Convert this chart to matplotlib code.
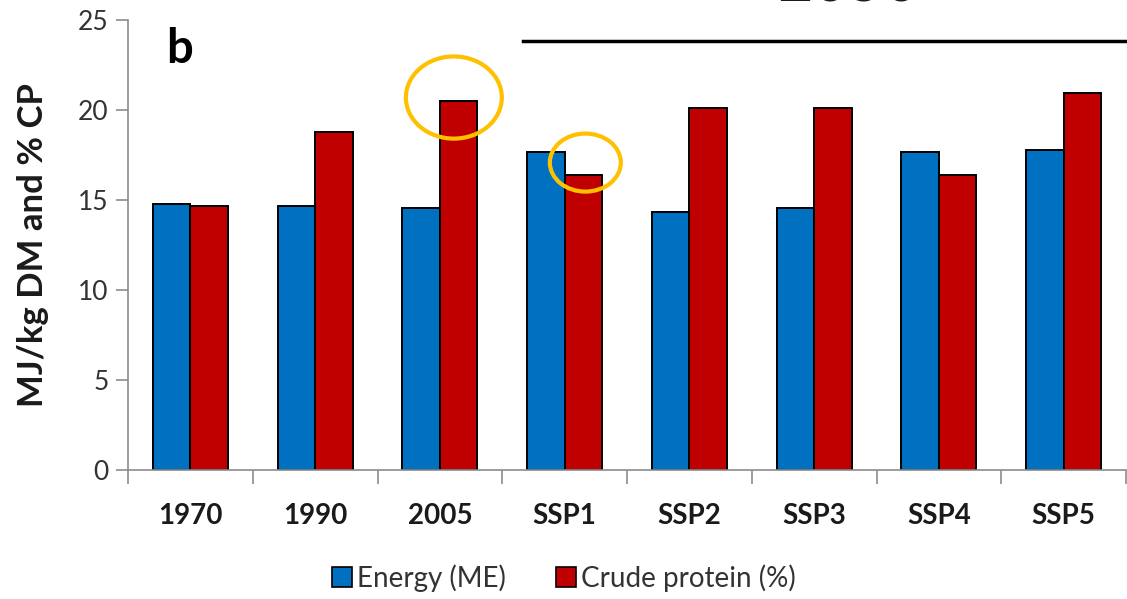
import numpy as np
import matplotlib
matplotlib.use('Agg')
import matplotlib.pyplot as plt
from matplotlib.patches import Ellipse, Patch

plt.rcParams['font.family'] = ['Lato', 'DejaVu Sans']

categories = ['1970', '1990', '2005', 'SSP1', 'SSP2', 'SSP3', 'SSP4', 'SSP5']
energy = [14.78, 14.67, 14.54, 17.63, 14.3, 14.54, 17.63, 17.74]
protein = [14.67, 18.78, 20.46, 16.39, 20.09, 20.09, 16.39, 20.93]
series_names = ['Energy (ME)', 'Crude protein (%)']
blue = '#0070C0'
red = '#C00000'

W, H = 1127, 599
fig = plt.figure(figsize=(W/100, H/100), dpi=100)
# axes box in pixels: left 128, right 1126, bottom 470, top 19.5
ax = fig.add_axes([128/W, (H-470)/H, (1126-128)/W, (470-19.5)/H])

x = np.arange(len(categories))
bw = 0.3
ax.bar(x - bw/2, energy, bw, color=blue, edgecolor='black', linewidth=1.4)
ax.bar(x + bw/2, protein, bw, color=red, edgecolor='black', linewidth=1.4)

ax.set_xlim(-0.5, len(categories) - 0.5)
ax.set_ylim(0, 25)
ax.set_yticks(range(0, 26, 5))
ax.set_xticks(x)
ax.set_xticklabels(categories, fontsize=20, fontweight='bold', color='#1a1a1a')
ax.set_xticks(np.arange(-0.5, len(categories)), minor=True)
ax.tick_params(axis='x', which='major', length=0, pad=24)
ax.tick_params(axis='x', which='minor', length=10, width=1.2, color='#8c8c8c', direction='out')
ax.tick_params(axis='y', length=9, width=1.2, color='#8c8c8c', labelsize=19, labelcolor='#333333', pad=5)

for s in ['top', 'right']:
    ax.spines[s].set_visible(False)
for s in ['left', 'bottom']:
    ax.spines[s].set_color('#8c8c8c')
    ax.spines[s].set_linewidth(1.2)

fig.text(33/W, (H-245)/H, 'MJ/kg DM and % CP', rotation=90, ha='center', va='center',
         fontsize=25, fontweight='bold', color='#1a1a1a')

# panel letter
fig.text(166/W, (H-63)/H, 'b', fontsize=34, fontweight='bold', ha='left', va='baseline')

# 2050 bracket line and cut-off heading
ax.plot([2.665, 7.5], [23.79, 23.79], color='black', linewidth=2.5, clip_on=False)
fig.text(848/W, (H-1.5)/H, '2050', fontsize=44, ha='center', va='baseline', color='#1a1a1a')

# highlight circles
for cx, cy, ew, eh in [(2.112, 20.67, 0.769, 4.56), (3.166, 17.06, 0.569, 3.22)]:
    ax.add_patch(Ellipse((cx, cy), ew, eh, fill=False, edgecolor='#FFC000', linewidth=3, clip_on=False))

handles = [Patch(facecolor=blue, edgecolor='black', linewidth=1.2),
           Patch(facecolor=red, edgecolor='black', linewidth=1.2)]
fig.legend(handles, series_names, loc='center', bbox_to_anchor=(564/W, 21/H), ncol=2,
           frameon=False, fontsize=20, handlelength=0.7, handleheight=0.7,
           handletextpad=0.2, columnspacing=1.8, labelcolor='#333333')

fig.savefig('out.png', dpi=100)
